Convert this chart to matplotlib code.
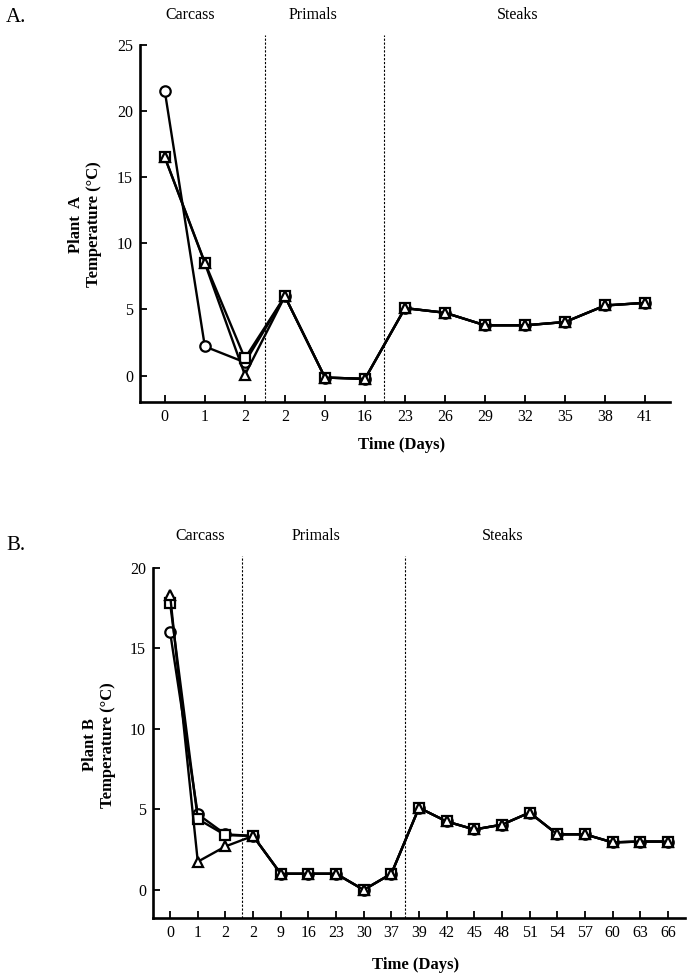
import matplotlib.pyplot as plt

plt.rcParams['font.family'] = ['Liberation Serif', 'DejaVu Serif']

# Plant A data
days_a = ['0', '1', '2', '2', '9', '16', '23', '26', '29', '32', '35', '38', '41']
circle_a = [21.5, 2.2, 1.0, 6.0, -0.15, -0.25, 5.1, 4.75, 3.8, 3.8, 4.05, 5.3, 5.5]
square_a = [16.5, 8.55, 1.3, 6.0, -0.15, -0.25, 5.1, 4.75, 3.8, 3.8, 4.05, 5.3, 5.5]
triangle_a = [16.5, 8.5, 0.05, 6.0, -0.15, -0.25, 5.1, 4.75, 3.8, 3.8, 4.05, 5.3, 5.5]

# Plant B data
days_b = ['0', '1', '2', '2', '9', '16', '23', '30', '37', '39', '42', '45',
          '48', '51', '54', '57', '60', '63', '66']
circle_b = [16.0, 4.7, 3.45, 3.35, 1.0, 1.0, 1.0, 0.0, 1.0, 5.1, 4.25, 3.75,
            4.05, 4.8, 3.45, 3.45, 2.95, 3.0, 3.0]
square_b = [17.8, 4.4, 3.4, 3.35, 1.0, 1.0, 1.0, 0.0, 1.0, 5.1, 4.25, 3.75,
            4.05, 4.8, 3.45, 3.45, 2.95, 3.0, 3.0]
triangle_b = [18.3, 1.75, 2.7, 3.35, 1.0, 1.0, 1.0, 0.0, 1.0, 5.1, 4.25, 3.75,
              4.05, 4.8, 3.45, 3.45, 2.95, 3.0, 3.0]

sections = ['Carcass', 'Primals', 'Steaks']

fig = plt.figure(figsize=(6.88, 9.76), dpi=100)


def panel(rect, days, series, ylim, yticks, cuts, sec_x, sec_y, plant, letter, letter_y,
          ylab_x, ylab_y, xlab_y):
    ax = fig.add_axes(rect)
    x = list(range(len(days)))
    for vals, m in series:
        ax.plot(x, vals, color='black', lw=1.7, marker=m, markersize=7.5,
                markerfacecolor='white', markeredgecolor='black', markeredgewidth=1.6,
                clip_on=False, zorder=3)
    ax.set_xlim(-0.62, len(days) - 0.38)
    ax.set_ylim(*ylim)
    ax.set_yticks(yticks)
    ax.set_xticks(x)
    ax.set_xticklabels(days)
    for c in cuts:
        ax.vlines(c, ylim[0], ylim[1] + 0.75, colors='black', linestyles=(0, (2, 1.5)),
                  lw=0.8, clip_on=False)
    ax.spines['top'].set_visible(False)
    ax.spines['right'].set_visible(False)
    ax.spines['left'].set_linewidth(1.9)
    ax.spines['bottom'].set_linewidth(1.9)
    ax.tick_params(direction='in', length=5, width=1.3, labelsize=11.5, pad=5)
    for s, sx in zip(sections, sec_x):
        fig.text(sx / 688, 1 - sec_y / 976, s, ha='center', va='center', fontsize=11.5)
    fig.text(6 / 688, 1 - letter_y / 976, letter, ha='left', va='center', fontsize=15)
    fig.text(ylab_x / 688, 1 - ylab_y / 976, plant + '\nTemperature (°C)',
             rotation=90, ha='center', va='center', fontsize=12, fontweight='bold',
             linespacing=1.15)
    fig.text(rect[0] + rect[2] * 0.5 - 0.005, 1 - xlab_y / 976, 'Time (Days)',
             ha='center', va='center', fontsize=12, fontweight='bold')
    return ax


panel([140 / 688, 1 - 402 / 976, 530 / 688, 357 / 976], days_a,
      [(circle_a, 'o'), (square_a, 's'), (triangle_a, '^')],
      (-2, 25), [0, 5, 10, 15, 20, 25], [2.5, 5.48],
      [190, 313, 518], 15, 'Plant  A', 'A.', 17, 85, 224, 445)

panel([153 / 688, 1 - 918 / 976, 532 / 688, 350 / 976], days_b,
      [(circle_b, 'o'), (square_b, 's'), (triangle_b, '^')],
      (-1.75, 20), [0, 5, 10, 15, 20], [2.6, 8.48],
      [200, 316, 503], 536, 'Plant B', 'B.', 545, 99, 745, 965)

fig.savefig('out.png', dpi=100)
